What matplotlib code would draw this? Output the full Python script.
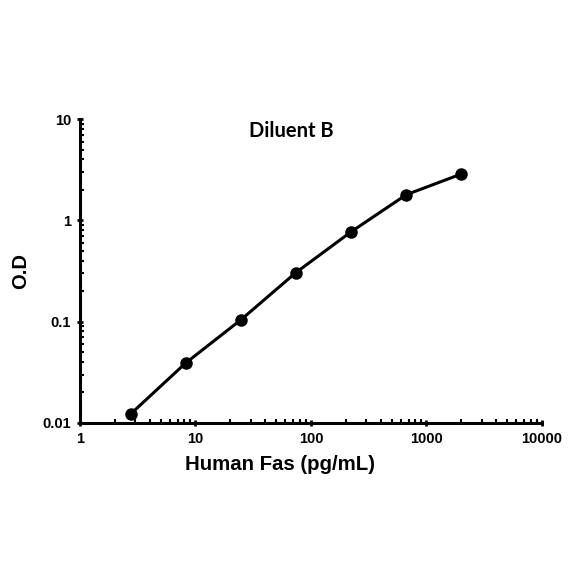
import matplotlib
matplotlib.use("Agg")
import matplotlib.pyplot as plt
from matplotlib.ticker import LogLocator, FixedLocator, NullFormatter

# standard curve, Diluent B
conc = [2.74, 8.23, 24.69, 74.07, 222.2, 666.7, 2000]
od = [0.0122, 0.039, 0.104, 0.305, 0.77, 1.79, 2.87]

x_ticks = [1, 10, 100, 1000, 10000]
x_labels = ["1", "10", "100", "1000", "10000"]
y_ticks = [0.01, 0.1, 1, 10]
y_labels = ["0.01", "0.1", "1", "10"]

plt.rcParams["font.family"] = ["Liberation Sans", "DejaVu Sans"]

fig = plt.figure(figsize=(5.84, 5.84), dpi=100)
ax = fig.add_axes([0.137, 0.276, 0.791, 0.520])

ax.plot(conc, od, "k-", lw=2.2, marker="o", ms=8, mfc="black", mec="black")

ax.set_xscale("log")
ax.set_yscale("log")
ax.set_xlim(1, 10000)
ax.set_ylim(0.01, 10)

ax.xaxis.set_major_locator(FixedLocator(x_ticks))
ax.set_xticklabels(x_labels)
ax.yaxis.set_major_locator(FixedLocator(y_ticks))
ax.set_yticklabels(y_labels)
ax.xaxis.set_minor_locator(LogLocator(base=10, subs=range(2, 10)))
ax.yaxis.set_minor_locator(LogLocator(base=10, subs=range(2, 10)))
ax.xaxis.set_minor_formatter(NullFormatter())
ax.yaxis.set_minor_formatter(NullFormatter())

for side in ["top", "right"]:
    ax.spines[side].set_visible(False)
for side in ["left", "bottom"]:
    ax.spines[side].set_linewidth(2.2)

ax.tick_params(which="major", direction="inout", length=5, width=2, labelsize=10.5, pad=4)
ax.tick_params(which="minor", direction="in", length=3, width=1.5)
for lab in ax.get_xticklabels() + ax.get_yticklabels():
    lab.set_fontweight("bold")

ax.set_xlabel("Human Fas (pg/mL)", fontsize=14.7, fontweight="bold")
ax.xaxis.set_label_coords(0.433, -0.107)
ax.set_ylabel("O.D", fontsize=14.5, fontweight="bold", labelpad=9)

ax.text(0.458, 0.96, "Diluent B", transform=ax.transAxes, ha="center", va="center",
        fontsize=14.5, fontweight="bold", family=["Lato", "DejaVu Sans"])

fig.savefig("out.png", dpi=100)
